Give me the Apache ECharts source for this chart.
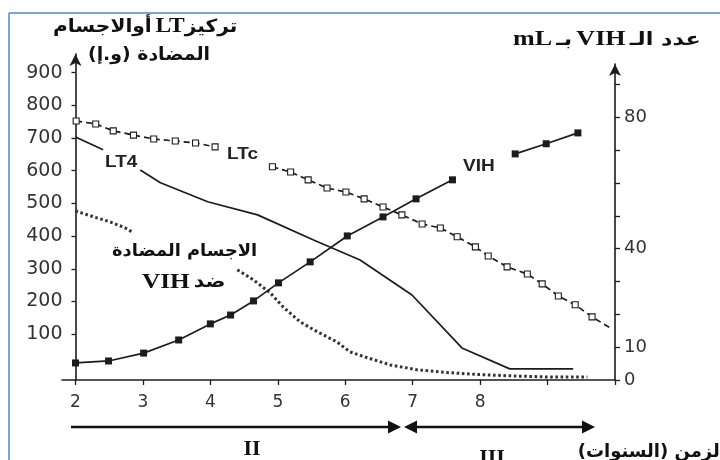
<!DOCTYPE html>
<html><head><meta charset="utf-8">
<script src="https://cdn.jsdelivr.net/npm/echarts@6.0.0/dist/echarts.min.js"></script>
<style>html,body{margin:0;padding:0;background:#fff}#c{width:720px;height:460px}</style>
</head><body><div id="c"></div>
<script>
// ---- data ----
const xTicks = [2, 3, 4, 5, 6, 7, 8, 9, 10];
const xLabels = [2, 3, 4, 5, 6, 7, 8];
const leftTicks = [100, 200, 300, 400, 500, 600, 700, 800, 900];
const rightTicks = [0, 10, 20, 30, 40, 50, 60, 70, 80, 90];
const rightLabels = [0, 10, 40, 80];

// LT4 (years, value) – break where the label sits
const lt4 = [[2.00,703],[2.41,664],[2.7,'-'],[2.96,602],[3.26,563],[3.96,505],[4.70,465],
  [5.53,388],[6.22,327],[6.99,220],[7.73,58],[8.44,-6],[9.38,-6]];
// LTc
const ltc = [[2.01,752],[2.30,743],[2.56,722],[2.86,709],[3.16,697],[3.48,691],[3.78,685],[4.07,673],
  [4.5,'-'],[4.92,612],[5.19,596],[5.45,572],[5.73,547],[6.01,535],[6.28,514],[6.56,489],[6.84,465],
  [7.14,437],[7.41,425],[7.66,398],[7.93,367],[8.12,339],[8.40,306],[8.70,284],[8.92,254],[9.16,217],
  [9.41,190],[9.66,153],[9.93,119]];
// antibodies anti-VIH
const antib = [[2.00,477],[2.27,459],[2.52,443],[2.74,425],[2.86,410],[3.6,'-'],[4.40,297],[4.64,266],
  [4.89,226],[5.08,183],[5.33,138],[5.59,107],[5.88,76],[6.07,46],[6.33,28],[6.67,6],[7.07,-9],
  [7.56,-18],[8.04,-24],[8.55,-28],[9.04,-31],[9.59,-31]];
// VIH count (right axis)
const vih = [[2.00,5.2],[2.49,5.8],[3.01,8.2],[3.53,12.2],[4.00,17.1],[4.30,19.8],[4.64,24.1],[5.01,29.6],
  [5.48,36.0],[6.03,43.9],[6.56,49.7],[7.05,55.2],[7.59,61.0],[8.0,'-'],[8.52,68.9],[8.98,72.0],[9.45,75.3]];

const INK = '#1c1c1c';
const AR = 'DejaVu Sans';
const RLE = '\u202B', PDF = '\u202C';

const chart = echarts.init(document.getElementById('c'), null, {renderer: 'canvas'});

const ltcData = ltc.map((p, i) => i === ltc.length - 1 ? {value: p, symbol: 'none'} : p);

const axisLineStyle = {color: INK, width: 1.6};

const option = {
  animation: false,
  backgroundColor: '#fff',
  grid: [
    {left: 62, right: 105, top: 54, bottom: 80},
    {left: 62, right: 105, top: 64, bottom: 80}
  ],
  xAxis: [
    {type: 'value', gridIndex: 0, min: 1.8, max: 10,
     axisLine: {show: true, onZero: false, lineStyle: axisLineStyle},
     axisTick: {show: true, customValues: xTicks, length: 5, lineStyle: {color: INK, width: 1.3}},
     axisLabel: {customValues: xLabels, margin: 14, fontSize: 17, fontFamily: 'DejaVu Sans', color: '#333'},
     splitLine: {show: false}},
    {type: 'value', gridIndex: 1, min: 1.8, max: 10, show: false, axisLine: {onZero: false}, splitLine: {show: false}}
  ],
  yAxis: [
    {type: 'value', gridIndex: 0, position: 'left', min: -40, max: 957, offset: -13.5,
     axisLine: {show: true, lineStyle: axisLineStyle, symbol: ['none', 'arrow'], symbolSize: [9, 12]},
     axisTick: {show: true, customValues: leftTicks, length: 4, lineStyle: {color: INK, width: 1.3}},
     axisLabel: {customValues: leftTicks, margin: 13, fontSize: 19, fontFamily: 'DejaVu Sans', color: '#333'},
     splitLine: {show: false}},
    {type: 'value', gridIndex: 1, position: 'right', min: 0, max: 96.3,
     axisLine: {show: true, lineStyle: axisLineStyle, symbol: ['none', 'arrow'], symbolSize: [9, 12]},
     axisTick: {show: true, customValues: rightTicks, length: 5, lineStyle: {color: INK, width: 1.3}},
     axisLabel: {customValues: rightLabels, margin: 9, fontSize: 18, fontFamily: 'DejaVu Sans', color: '#333'},
     splitLine: {show: false}}
  ],
  series: [
    {name: 'LT4', type: 'line', xAxisIndex: 0, yAxisIndex: 0, data: lt4, showSymbol: false, symbol: 'none',
     connectNulls: false, lineStyle: {color: INK, width: 1.7}},
    {name: 'LTc', type: 'line', xAxisIndex: 0, yAxisIndex: 0, data: ltcData, symbol: 'rect', symbolSize: 6,
     connectNulls: false,
     itemStyle: {color: '#fff', borderColor: INK, borderWidth: 1.1},
     lineStyle: {color: INK, width: 1.7, type: [6, 4]}},
    {name: 'AC', type: 'line', xAxisIndex: 0, yAxisIndex: 0, data: antib, symbol: 'none', connectNulls: false,
     lineStyle: {color: '#333', width: 3, type: [2.6, 2.6], cap: 'butt'}},
    {name: 'VIH', type: 'line', xAxisIndex: 1, yAxisIndex: 1, data: vih, symbol: 'rect', symbolSize: 7,
     connectNulls: false, itemStyle: {color: INK},
     lineStyle: {color: INK, width: 1.7}}
  ],
  graphic: [
    // blue frame
    {type: 'line', shape: {x1: 9, y1: 13, x2: 720, y2: 13}, style: {stroke: '#4f86cf', lineWidth: 1.5}},
    {type: 'line', shape: {x1: 9, y1: 13, x2: 9, y2: 460}, style: {stroke: '#4f86cf', lineWidth: 1.5}},
    // left title
    {type: 'text', x: 53, y: 27, scaleX: 1.12, style: {
      text: '{a|أوالاجسام} {b|LT}{a|تركيز}', verticalAlign: 'middle', align: 'left',
      rich: {a: {fontFamily: AR, fontWeight: 'bold', fontSize: 18, fill: '#111'},
             b: {fontFamily: 'Liberation Serif', fontWeight: 'bold', fontSize: 21, fill: '#111'}}}},
    {type: 'text', x: 88, y: 55, scaleX: 1.05, style: {
      text: RLE + 'المضادة (و.إ)' + PDF, verticalAlign: 'middle', align: 'left',
      fontFamily: AR, fontWeight: 'bold', fontSize: 18, fill: '#111'}},
    // right title
    {type: 'text', x: 513, y: 40, scaleX: 1.24, style: {
      text: '{b|mL} {a|بـ} {b|VIH} {a|عدد الـ}', verticalAlign: 'middle', align: 'left',
      rich: {a: {fontFamily: AR, fontWeight: 'bold', fontSize: 18, fill: '#111'},
             b: {fontFamily: 'Liberation Serif', fontWeight: 'bold', fontSize: 21, fill: '#111'}}}},
    // curve labels
    {type: 'text', x: 105, y: 162, scaleX: 1.12, style: {text: 'LT4', verticalAlign: 'middle',
      fontFamily: 'Liberation Sans', fontWeight: 'bold', fontSize: 17, fill: '#222'}},
    {type: 'text', x: 227, y: 154, scaleX: 1.12, style: {text: 'LTc', verticalAlign: 'middle',
      fontFamily: 'Liberation Sans', fontWeight: 'bold', fontSize: 17, fill: '#222'}},
    {type: 'text', x: 463, y: 166, scaleX: 1.12, style: {text: 'VIH', verticalAlign: 'middle',
      fontFamily: 'Liberation Sans', fontWeight: 'bold', fontSize: 17, fill: '#222'}},
    {type: 'text', x: 112, y: 252, scaleX: 1.05, style: {text: 'الاجسام المضادة', verticalAlign: 'middle',
      fontFamily: AR, fontWeight: 'bold', fontSize: 17, fill: '#111'}},
    {type: 'text', x: 142, y: 282, scaleX: 1.15, style: {
      text: '{b|VIH} {a|ضد}', verticalAlign: 'middle', align: 'left',
      rich: {a: {fontFamily: AR, fontWeight: 'bold', fontSize: 18, fill: '#111'},
             b: {fontFamily: 'Liberation Serif', fontWeight: 'bold', fontSize: 22, fill: '#111'}}}},
    // phase arrows
    {type: 'line', shape: {x1: 71, y1: 427, x2: 392, y2: 427}, style: {stroke: '#111', lineWidth: 2.6}},
    {type: 'polygon', shape: {points: [[401, 427], [388, 420.5], [388, 433.5]]}, style: {fill: '#111'}},
    {type: 'line', shape: {x1: 412, y1: 427, x2: 587, y2: 427}, style: {stroke: '#111', lineWidth: 2.6}},
    {type: 'polygon', shape: {points: [[404, 427], [417, 420.5], [417, 433.5]]}, style: {fill: '#111'}},
    {type: 'polygon', shape: {points: [[595, 427], [582, 420.5], [582, 433.5]]}, style: {fill: '#111'}},
    {type: 'text', x: 252, y: 449, style: {text: 'II', align: 'center', verticalAlign: 'middle',
      fontFamily: 'Liberation Serif', fontWeight: 'bold', fontSize: 22, fill: '#111'}},
    {type: 'text', x: 492, y: 458, style: {text: 'III', align: 'center', verticalAlign: 'middle',
      fontFamily: 'Liberation Serif', fontWeight: 'bold', fontSize: 22, fill: '#111'}},
    {type: 'text', x: 726, y: 452, style: {text: RLE + 'الزمن (السنوات)' + PDF, align: 'right',
      verticalAlign: 'middle', fontFamily: AR, fontWeight: 'bold', fontSize: 18, fill: '#111'}}
  ]
};
chart.setOption(option);
</script></body></html>
